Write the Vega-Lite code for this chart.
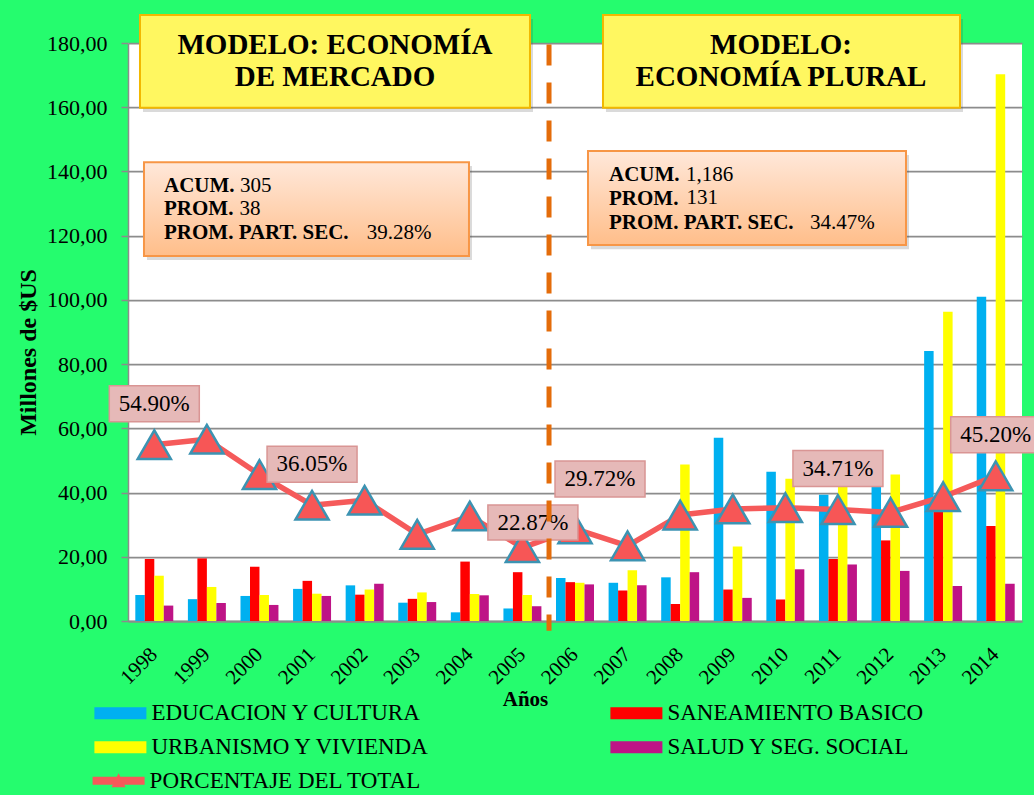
{
  "$schema": "https://vega.github.io/schema/vega-lite/v6.json",
  "width": 894,
  "height": 578,
  "autosize": {"type": "none"},
  "padding": {"left": 128, "top": 43, "right": 12, "bottom": 174},
  "background": "#25FC6E",
  "config": {
    "locale": {"number": {"decimal": ",", "thousands": ".", "grouping": [3], "currency": ["$", ""]}},
    "view": {"fill": "white", "stroke": null},
    "font": "Liberation Serif, Times New Roman, serif",
    "text": {"color": "black", "font": "Liberation Serif, Times New Roman, serif"}
  },
  "datasets": {
    "bars": [
      {"year": "1998", "sector": "EDUCACION Y CULTURA", "value": 8.1},
      {"year": "1998", "sector": "SANEAMIENTO BASICO", "value": 19.3},
      {"year": "1998", "sector": "URBANISMO Y VIVIENDA", "value": 14.1},
      {"year": "1998", "sector": "SALUD Y SEG. SOCIAL", "value": 4.8},
      {"year": "1999", "sector": "EDUCACION Y CULTURA", "value": 6.8},
      {"year": "1999", "sector": "SANEAMIENTO BASICO", "value": 19.5},
      {"year": "1999", "sector": "URBANISMO Y VIVIENDA", "value": 10.6},
      {"year": "1999", "sector": "SALUD Y SEG. SOCIAL", "value": 5.6},
      {"year": "2000", "sector": "EDUCACION Y CULTURA", "value": 7.8},
      {"year": "2000", "sector": "SANEAMIENTO BASICO", "value": 16.9},
      {"year": "2000", "sector": "URBANISMO Y VIVIENDA", "value": 8.1},
      {"year": "2000", "sector": "SALUD Y SEG. SOCIAL", "value": 5.0},
      {"year": "2001", "sector": "EDUCACION Y CULTURA", "value": 10.0},
      {"year": "2001", "sector": "SANEAMIENTO BASICO", "value": 12.5},
      {"year": "2001", "sector": "URBANISMO Y VIVIENDA", "value": 8.5},
      {"year": "2001", "sector": "SALUD Y SEG. SOCIAL", "value": 7.8},
      {"year": "2002", "sector": "EDUCACION Y CULTURA", "value": 11.1},
      {"year": "2002", "sector": "SANEAMIENTO BASICO", "value": 8.2},
      {"year": "2002", "sector": "URBANISMO Y VIVIENDA", "value": 9.8},
      {"year": "2002", "sector": "SALUD Y SEG. SOCIAL", "value": 11.6},
      {"year": "2003", "sector": "EDUCACION Y CULTURA", "value": 5.7},
      {"year": "2003", "sector": "SANEAMIENTO BASICO", "value": 6.9},
      {"year": "2003", "sector": "URBANISMO Y VIVIENDA", "value": 8.9},
      {"year": "2003", "sector": "SALUD Y SEG. SOCIAL", "value": 5.9},
      {"year": "2004", "sector": "EDUCACION Y CULTURA", "value": 2.7},
      {"year": "2004", "sector": "SANEAMIENTO BASICO", "value": 18.5},
      {"year": "2004", "sector": "URBANISMO Y VIVIENDA", "value": 8.4},
      {"year": "2004", "sector": "SALUD Y SEG. SOCIAL", "value": 8.0},
      {"year": "2005", "sector": "EDUCACION Y CULTURA", "value": 3.9},
      {"year": "2005", "sector": "SANEAMIENTO BASICO", "value": 15.2},
      {"year": "2005", "sector": "URBANISMO Y VIVIENDA", "value": 8.1},
      {"year": "2005", "sector": "SALUD Y SEG. SOCIAL", "value": 4.6},
      {"year": "2006", "sector": "EDUCACION Y CULTURA", "value": 13.4},
      {"year": "2006", "sector": "SANEAMIENTO BASICO", "value": 12.1},
      {"year": "2006", "sector": "URBANISMO Y VIVIENDA", "value": 11.9},
      {"year": "2006", "sector": "SALUD Y SEG. SOCIAL", "value": 11.4},
      {"year": "2007", "sector": "EDUCACION Y CULTURA", "value": 11.9},
      {"year": "2007", "sector": "SANEAMIENTO BASICO", "value": 9.5},
      {"year": "2007", "sector": "URBANISMO Y VIVIENDA", "value": 15.8},
      {"year": "2007", "sector": "SALUD Y SEG. SOCIAL", "value": 11.1},
      {"year": "2008", "sector": "EDUCACION Y CULTURA", "value": 13.6},
      {"year": "2008", "sector": "SANEAMIENTO BASICO", "value": 5.3},
      {"year": "2008", "sector": "URBANISMO Y VIVIENDA", "value": 48.7},
      {"year": "2008", "sector": "SALUD Y SEG. SOCIAL", "value": 15.2},
      {"year": "2009", "sector": "EDUCACION Y CULTURA", "value": 57.1},
      {"year": "2009", "sector": "SANEAMIENTO BASICO", "value": 9.8},
      {"year": "2009", "sector": "URBANISMO Y VIVIENDA", "value": 23.2},
      {"year": "2009", "sector": "SALUD Y SEG. SOCIAL", "value": 7.2},
      {"year": "2010", "sector": "EDUCACION Y CULTURA", "value": 46.5},
      {"year": "2010", "sector": "SANEAMIENTO BASICO", "value": 6.7},
      {"year": "2010", "sector": "URBANISMO Y VIVIENDA", "value": 44.3},
      {"year": "2010", "sector": "SALUD Y SEG. SOCIAL", "value": 16.1},
      {"year": "2011", "sector": "EDUCACION Y CULTURA", "value": 39.3},
      {"year": "2011", "sector": "SANEAMIENTO BASICO", "value": 19.3},
      {"year": "2011", "sector": "URBANISMO Y VIVIENDA", "value": 44.0},
      {"year": "2011", "sector": "SALUD Y SEG. SOCIAL", "value": 17.6},
      {"year": "2012", "sector": "EDUCACION Y CULTURA", "value": 45.0},
      {"year": "2012", "sector": "SANEAMIENTO BASICO", "value": 25.1},
      {"year": "2012", "sector": "URBANISMO Y VIVIENDA", "value": 45.6},
      {"year": "2012", "sector": "SALUD Y SEG. SOCIAL", "value": 15.6},
      {"year": "2013", "sector": "EDUCACION Y CULTURA", "value": 84.1},
      {"year": "2013", "sector": "SANEAMIENTO BASICO", "value": 34.0},
      {"year": "2013", "sector": "URBANISMO Y VIVIENDA", "value": 96.3},
      {"year": "2013", "sector": "SALUD Y SEG. SOCIAL", "value": 10.9},
      {"year": "2014", "sector": "EDUCACION Y CULTURA", "value": 101.0},
      {"year": "2014", "sector": "SANEAMIENTO BASICO", "value": 29.6},
      {"year": "2014", "sector": "URBANISMO Y VIVIENDA", "value": 170.3},
      {"year": "2014", "sector": "SALUD Y SEG. SOCIAL", "value": 11.6}
    ],
    "pct": [
      {"year": "1998", "pct": 54.9, "label": "54.90%"},
      {"year": "1999", "pct": 56.6, "label": null},
      {"year": "2000", "pct": 45.6, "label": null},
      {"year": "2001", "pct": 36.05, "label": "36.05%"},
      {"year": "2002", "pct": 37.6, "label": null},
      {"year": "2003", "pct": 27.0, "label": null},
      {"year": "2004", "pct": 32.7, "label": null},
      {"year": "2005", "pct": 22.87, "label": "22.87%"},
      {"year": "2006", "pct": 28.7, "label": "29.72%"},
      {"year": "2007", "pct": 23.4, "label": null},
      {"year": "2008", "pct": 33.0, "label": null},
      {"year": "2009", "pct": 34.9, "label": null},
      {"year": "2010", "pct": 35.3, "label": null},
      {"year": "2011", "pct": 34.71, "label": "34.71%"},
      {"year": "2012", "pct": 33.8, "label": null},
      {"year": "2013", "pct": 38.7, "label": null},
      {"year": "2014", "pct": 45.2, "label": "45.20%"}
    ]
  },
  "layer": [
    {
      "data": {"name": "bars"},
      "mark": {"type": "bar"},
      "encoding": {
        "x": {
          "field": "year", "type": "ordinal",
          "scale": {"domain": ["1998","1999","2000","2001","2002","2003","2004","2005","2006","2007","2008","2009","2010","2011","2012","2013","2014"], "paddingInner": 0, "paddingOuter": 0},
          "title": "Años",
          "axis": {
            "labelAngle": -45, "labelAlign": "right", "labelBaseline": "middle", "labelPadding": 30,
            "ticks": false, "domainColor": "#8C8C8C", "domainWidth": 2,
            "labelFont": "Liberation Serif, Times New Roman, serif", "labelFontSize": 21, "labelColor": "black",
            "titleFont": "Liberation Serif, Times New Roman, serif", "titleFontSize": 21, "titleFontWeight": "bold", "titleColor": "black",
            "titleX": 397, "titleY": 84, "titleBaseline": "alphabetic", "titleAlign": "center"
          }
        },
        "xOffset": {
          "field": "sector", "type": "nominal",
          "scale": {"domain": ["EDUCACION Y CULTURA", "SANEAMIENTO BASICO", "URBANISMO Y VIVIENDA", "SALUD Y SEG. SOCIAL"], "paddingInner": 0, "paddingOuter": 0.77}
        },
        "y": {
          "field": "value", "type": "quantitative",
          "scale": {"domain": [0, 180], "nice": false},
          "title": "Millones de $US",
          "axis": {
            "values": [0, 20, 40, 60, 80, 100, 120, 140, 160, 180], "format": ".2f",
            "labelFont": "Liberation Serif, Times New Roman, serif", "labelFontSize": 22, "labelColor": "black", "labelPadding": 14,
            "tickSize": 7, "tickColor": "#8C8C8C", "tickWidth": 1.5,
            "domainColor": "#8C8C8C", "domainWidth": 1.5,
            "grid": true, "gridColor": "#8C8C8C", "gridWidth": 1.75,
            "titleFont": "Liberation Serif, Times New Roman, serif", "titleFontSize": 24, "titleFontWeight": "bold", "titleColor": "black",
            "titleX": -100, "titleY": 309, "titleBaseline": "middle", "titleAlign": "center"
          }
        },
        "color": {
          "field": "sector", "type": "nominal",
          "scale": {"domain": ["EDUCACION Y CULTURA", "URBANISMO Y VIVIENDA", "SANEAMIENTO BASICO", "SALUD Y SEG. SOCIAL"], "range": ["#00B0F0", "#FFFF00", "#FF0000", "#BE1486"]},
          "legend": {
            "title": null, "orient": "none", "legendX": -33.6, "legendY": 658.3,
            "columns": 2, "columnPadding": 180, "rowPadding": 10, "padding": 0,
            "symbolType": "M-1,-0.5L3.333,-0.5L3.333,0.5L-1,0.5Z", "symbolSize": 576, "symbolStrokeWidth": 0,
            "labelOffset": 33, "labelFont": "Liberation Serif, Times New Roman, serif", "labelFontSize": 23, "labelColor": "black", "labelLimit": 0
          }
        }
      }
    },
    {
      "data": {"name": "pct"},
      "mark": {"type": "line", "strokeWidth": 5.5, "strokeCap": "round", "strokeJoin": "round"},
      "encoding": {
        "x": {"field": "year", "type": "ordinal"},
        "y": {"field": "pct", "type": "quantitative"},
        "stroke": {
          "datum": "PORCENTAJE DEL TOTAL", "type": "nominal",
          "scale": {"range": ["#F55A5A"]},
          "legend": {
            "title": null, "orient": "none", "legendX": -35.4, "legendY": 725.7, "padding": 0,
            "symbolType": "M-1,-0.33L3.333,-0.33L3.333,0.33L-1,0.33Z M1.167,-0.62L1.75,0.55L0.583,0.55Z",
            "symbolSize": 576, "symbolStrokeWidth": 0,
            "labelOffset": 33, "labelFont": "Liberation Serif, Times New Roman, serif", "labelFontSize": 23, "labelColor": "black", "labelLimit": 0,
            "encode": {"symbols": {"update": {"fill": {"value": "#F55A5A"}, "strokeWidth": {"value": 0}}}}
          }
        }
      }
    },
    {
      "data": {"name": "pct"},
      "mark": {"type": "point", "shape": "triangle-up", "size": 1100, "filled": true, "fill": "#F75656", "stroke": "#3C93B2", "strokeWidth": 2.5, "opacity": 1},
      "encoding": {
        "x": {"field": "year", "type": "ordinal"},
        "y": {"field": "pct", "type": "quantitative"}
      }
    },
    {
      "data": {"values": [{}]},
      "mark": {"type": "rect", "fill": "#444444", "opacity": 0.2},
      "encoding": {
        "x": {"datum": "1998", "type": "ordinal", "bandPosition": 0.285},
        "x2": {"datum": "2005", "bandPosition": 0.701},
        "y": {"datum": 187.5, "type": "quantitative"},
        "y2": {"datum": 158.5}
      }
    },
    {
      "data": {"values": [{}]},
      "mark": {"type": "rect", "fill": "#444444", "opacity": 0.2},
      "encoding": {
        "x": {"datum": "2007", "type": "ordinal", "bandPosition": 0.089},
        "x2": {"datum": "2013", "bandPosition": 0.878},
        "y": {"datum": 187.5, "type": "quantitative"},
        "y2": {"datum": 158.5}
      }
    },
    {
      "data": {"values": [{}]},
      "mark": {"type": "rect", "fill": "#444444", "opacity": 0.2},
      "encoding": {
        "x": {"datum": "1998", "type": "ordinal", "bandPosition": 0.361},
        "x2": {"datum": "2004", "bandPosition": 0.541},
        "y": {"datum": 141.7, "type": "quantitative"},
        "y2": {"datum": 112.4}
      }
    },
    {
      "data": {"values": [{}]},
      "mark": {"type": "rect", "fill": "#444444", "opacity": 0.2},
      "encoding": {
        "x": {"datum": "2006", "type": "ordinal", "bandPosition": 0.804},
        "x2": {"datum": "2012", "bandPosition": 0.851},
        "y": {"datum": 145.1, "type": "quantitative"},
        "y2": {"datum": 115.8}
      }
    },
    {
      "data": {"values": [{}]},
      "mark": {"type": "rect", "fill": "#FFF760", "stroke": "#F2B800", "strokeWidth": 2},
      "encoding": {
        "x": {"datum": "1998", "type": "ordinal", "bandPosition": 0.228},
        "x2": {"datum": "2005", "bandPosition": 0.644},
        "y": {"datum": 188.7, "type": "quantitative"},
        "y2": {"datum": 159.8}
      }
    },
    {
      "data": {"values": [{}]},
      "mark": {"type": "rect", "fill": "#FFF760", "stroke": "#F2B800", "strokeWidth": 2},
      "encoding": {
        "x": {"datum": "2007", "type": "ordinal", "bandPosition": 0.032},
        "x2": {"datum": "2013", "bandPosition": 0.821},
        "y": {"datum": 188.7, "type": "quantitative"},
        "y2": {"datum": 159.8}
      }
    },
    {
      "data": {"values": [{}]},
      "mark": {"type": "text", "text": ["MODELO: ECONOMÍA", "DE MERCADO"], "align": "center", "baseline": "alphabetic", "fontSize": 29, "fontWeight": "bold", "lineHeight": 32.5, "color": "black"},
      "encoding": {
        "x": {"datum": "2001", "type": "ordinal", "bandPosition": 0.936},
        "y": {"datum": 176.6, "type": "quantitative"}
      }
    },
    {
      "data": {"values": [{}]},
      "mark": {"type": "text", "text": ["MODELO:", "ECONOMÍA PLURAL"], "align": "center", "baseline": "alphabetic", "fontSize": 29, "fontWeight": "bold", "lineHeight": 32.5, "color": "black"},
      "encoding": {
        "x": {"datum": "2010", "type": "ordinal", "bandPosition": 0.417},
        "y": {"datum": 176.6, "type": "quantitative"}
      }
    },
    {
      "data": {"values": [{}]},
      "mark": {"type": "rect", "stroke": "#F79646", "strokeWidth": 2,
        "fill": {"gradient": "linear", "x1": 0, "y1": 0, "x2": 0, "y2": 1, "stops": [{"offset": 0, "color": "#FFE8DA"}, {"offset": 1, "color": "#FFBE8A"}]}},
      "encoding": {
        "x": {"datum": "1998", "type": "ordinal", "bandPosition": 0.304},
        "x2": {"datum": "2004", "bandPosition": 0.484},
        "y": {"datum": 142.9, "type": "quantitative"},
        "y2": {"datum": 113.7}
      }
    },
    {
      "data": {"values": [{}]},
      "mark": {"type": "rect", "stroke": "#F79646", "strokeWidth": 2,
        "fill": {"gradient": "linear", "x1": 0, "y1": 0, "x2": 0, "y2": 1, "stops": [{"offset": 0, "color": "#FFE8DA"}, {"offset": 1, "color": "#FFBE8A"}]}},
      "encoding": {
        "x": {"datum": "2006", "type": "ordinal", "bandPosition": 0.747},
        "x2": {"datum": "2012", "bandPosition": 0.794},
        "y": {"datum": 146.4, "type": "quantitative"},
        "y2": {"datum": 117.1}
      }
    },
    {
      "data": {"values": [{}]},
      "mark": {"type": "text", "text": ["ACUM.", "PROM.", "PROM. PART. SEC."], "align": "left", "baseline": "alphabetic", "fontSize": 21, "fontWeight": "bold", "lineHeight": 23.65, "color": "black"},
      "encoding": {
        "x": {"datum": "1998", "type": "ordinal", "bandPosition": 0.685},
        "y": {"datum": 133.7, "type": "quantitative"}
      }
    },
    {
      "data": {"values": [{}]},
      "mark": {"type": "text", "text": "305", "align": "left", "baseline": "alphabetic", "fontSize": 21, "color": "black"},
      "encoding": {
        "x": {"datum": "2000", "type": "ordinal", "bandPosition": 0.13},
        "y": {"datum": 133.7, "type": "quantitative"}
      }
    },
    {
      "data": {"values": [{}]},
      "mark": {"type": "text", "text": "38", "align": "left", "baseline": "alphabetic", "fontSize": 21, "color": "black"},
      "encoding": {
        "x": {"datum": "2000", "type": "ordinal", "bandPosition": 0.12},
        "y": {"datum": 126.4, "type": "quantitative"}
      }
    },
    {
      "data": {"values": [{}]},
      "mark": {"type": "text", "text": "39.28%", "align": "left", "baseline": "alphabetic", "fontSize": 21, "color": "black"},
      "encoding": {
        "x": {"datum": "2002", "type": "ordinal", "bandPosition": 0.539},
        "y": {"datum": 119.0, "type": "quantitative"}
      }
    },
    {
      "data": {"values": [{}]},
      "mark": {"type": "text", "text": ["ACUM.", "PROM.", "PROM. PART. SEC."], "align": "left", "baseline": "alphabetic", "fontSize": 21, "fontWeight": "bold", "lineHeight": 24.3, "color": "black"},
      "encoding": {
        "x": {"datum": "2007", "type": "ordinal", "bandPosition": 0.147},
        "y": {"datum": 137.1, "type": "quantitative"}
      }
    },
    {
      "data": {"values": [{}]},
      "mark": {"type": "text", "text": "1,186", "align": "left", "baseline": "alphabetic", "fontSize": 21, "color": "black"},
      "encoding": {
        "x": {"datum": "2008", "type": "ordinal", "bandPosition": 0.611},
        "y": {"datum": 137.1, "type": "quantitative"}
      }
    },
    {
      "data": {"values": [{}]},
      "mark": {"type": "text", "text": "131", "align": "left", "baseline": "alphabetic", "fontSize": 21, "color": "black"},
      "encoding": {
        "x": {"datum": "2008", "type": "ordinal", "bandPosition": 0.62},
        "y": {"datum": 129.8, "type": "quantitative"}
      }
    },
    {
      "data": {"values": [{}]},
      "mark": {"type": "text", "text": "34.47%", "align": "left", "baseline": "alphabetic", "fontSize": 21, "color": "black"},
      "encoding": {
        "x": {"datum": "2010", "type": "ordinal", "bandPosition": 0.969},
        "y": {"datum": 122.0, "type": "quantitative"}
      }
    },
    {
      "data": {"name": "pct"},
      "transform": [{"filter": "datum.year == '1998' || datum.year == '2001' || datum.year == '2011' || datum.year == '2014'"}],
      "mark": {"type": "point", "shape": "M-1,-1.311L1,-1.311L1,-0.511L-1,-0.511Z", "size": 8100, "filled": true, "fill": "#E6B9B8", "stroke": "#D99594", "strokeWidth": 1.5, "opacity": 1},
      "encoding": {
        "x": {"field": "year", "type": "ordinal"},
        "y": {"field": "pct", "type": "quantitative"}
      }
    },
    {
      "data": {"name": "pct"},
      "transform": [{"filter": "datum.year == '1998' || datum.year == '2001' || datum.year == '2011' || datum.year == '2014'"}],
      "mark": {"type": "text", "dy": -41, "align": "center", "baseline": "middle", "fontSize": 23, "color": "black"},
      "encoding": {
        "x": {"field": "year", "type": "ordinal"},
        "y": {"field": "pct", "type": "quantitative"},
        "text": {"field": "label"}
      }
    },
    {
      "data": {"name": "pct"},
      "transform": [{"filter": "datum.year == '2005'"}],
      "mark": {"type": "point", "shape": "M-0.767,-0.944L1.233,-0.944L1.233,-0.167L-0.767,-0.167Z", "size": 8100, "filled": true, "fill": "#E6B9B8", "stroke": "#D99594", "strokeWidth": 1.5, "opacity": 1},
      "encoding": {
        "x": {"field": "year", "type": "ordinal"},
        "y": {"field": "pct", "type": "quantitative"}
      }
    },
    {
      "data": {"name": "pct"},
      "transform": [{"filter": "datum.year == '2005'"}],
      "mark": {"type": "text", "dx": 10.5, "dy": -25, "align": "center", "baseline": "middle", "fontSize": 23, "color": "black"},
      "encoding": {
        "x": {"field": "year", "type": "ordinal"},
        "y": {"field": "pct", "type": "quantitative"},
        "text": {"field": "label"}
      }
    },
    {
      "data": {"name": "pct"},
      "transform": [{"filter": "datum.year == '2006'"}],
      "mark": {"type": "point", "shape": "M-0.444,-1.507L1.556,-1.507L1.556,-0.707L-0.444,-0.707Z", "size": 8100, "filled": true, "fill": "#E6B9B8", "stroke": "#D99594", "strokeWidth": 1.5, "opacity": 1},
      "encoding": {
        "x": {"field": "year", "type": "ordinal"},
        "y": {"field": "pct", "type": "quantitative"}
      }
    },
    {
      "data": {"name": "pct"},
      "transform": [{"filter": "datum.year == '2006'"}],
      "mark": {"type": "text", "dx": 25, "dy": -50, "align": "center", "baseline": "middle", "fontSize": 23, "color": "black"},
      "encoding": {
        "x": {"field": "year", "type": "ordinal"},
        "y": {"field": "pct", "type": "quantitative"},
        "text": {"field": "label"}
      }
    },
    {
      "data": {"values": [{}]},
      "mark": {"type": "rule", "stroke": "#E46C0A", "strokeWidth": 5, "strokeDash": [21, 17]},
      "encoding": {
        "x": {"datum": "2006", "type": "ordinal", "bandPosition": 0.006},
        "y": {"datum": 179.5, "type": "quantitative"},
        "y2": {"datum": -3}
      }
    }
  ]
}
